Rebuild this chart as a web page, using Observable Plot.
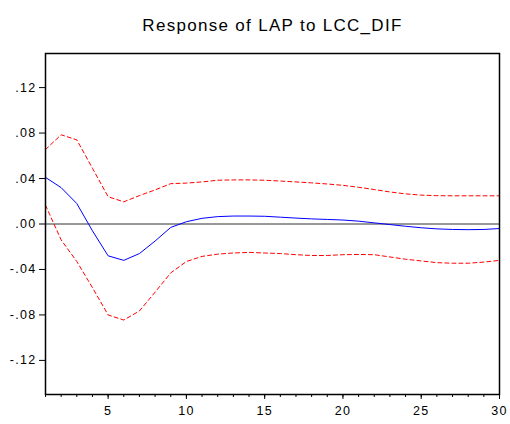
<!DOCTYPE html>
<html>
<head>
<meta charset="utf-8">
<script src="https://cdn.jsdelivr.net/npm/d3@7"></script>
<script src="https://cdn.jsdelivr.net/npm/@observablehq/plot@0.6"></script>
<style>
  html, body { margin: 0; padding: 0; background: #fff; }
  #chart svg { display: block; }
</style>
</head>
<body>
<div id="chart"></div>
<script>
const title = "Response of LAP to LCC_DIF";
const periods = d3.range(1, 31);
const response = [0.041, 0.032, 0.018, -0.006, -0.028, -0.032, -0.026, -0.015, -0.003, 0.002,
  0.005, 0.0065, 0.007, 0.007, 0.0068, 0.006, 0.0052, 0.0045, 0.004, 0.0035,
  0.0025, 0.001, -0.0005, -0.002, -0.0033, -0.0043, -0.0048, -0.005, -0.0048, -0.004];
const upper = [0.0655, 0.0785, 0.074, 0.049, 0.024, 0.0195, 0.025, 0.030, 0.0355, 0.036,
  0.037, 0.0385, 0.0388, 0.0388, 0.0385, 0.0378, 0.037, 0.0362, 0.0352, 0.034,
  0.0323, 0.0303, 0.0282, 0.0265, 0.0254, 0.0249, 0.0248, 0.0248, 0.0248, 0.0248];
const lower = [0.0165, -0.014, -0.033, -0.056, -0.080, -0.0845, -0.0765, -0.060, -0.043, -0.033,
  -0.0285, -0.0265, -0.0255, -0.025, -0.0255, -0.026, -0.027, -0.0277, -0.0277, -0.027,
  -0.0268, -0.027, -0.029, -0.031, -0.0325, -0.034, -0.0345, -0.0345, -0.0335, -0.032];
const yTicks = [-0.12, -0.08, -0.04, 0, 0.04, 0.08, 0.12];
const xLabelTicks = [5, 10, 15, 20, 25, 30];

const rows = periods.map((p, i) => ({period: p, response: response[i], upper: upper[i], lower: lower[i]}));

const fmtY = d => {
  const neg = d < -1e-9;
  return (neg ? "-" : "") + Math.abs(d).toFixed(2).replace(/^0/, "");
};

const chart = Plot.plot({
  width: 510,
  height: 424,
  marginLeft: 45,
  marginRight: 11,
  marginTop: 53,
  marginBottom: 30,
  style: {fontFamily: "'Liberation Sans', Arial, sans-serif", fontSize: "12.5px", color: "#000", background: "#fff"},
  x: {domain: [1, 30]},
  y: {domain: [-0.15, 0.15]},
  marks: [
    Plot.ruleY([0], {stroke: "#333", strokeWidth: 1}),
    Plot.line(rows, {x: "period", y: "upper", stroke: "#ff0000", strokeWidth: 1, strokeDasharray: "4,3"}),
    Plot.line(rows, {x: "period", y: "lower", stroke: "#ff0000", strokeWidth: 1, strokeDasharray: "4,3"}),
    Plot.line(rows, {x: "period", y: "response", stroke: "#0000ff", strokeWidth: 1}),
    Plot.axisY(yTicks, {tickSize: 6, tickPadding: 3, tickFormat: fmtY, label: null, stroke: "#000", fontSize: 12.5}),
    Plot.axisX(periods, {tickSize: 3, tickFormat: () => "", label: null, stroke: "#000"}),
    Plot.axisX(xLabelTicks, {tickSize: 5, tickPadding: 7, tickFormat: d => String(d), label: null, stroke: "#000", fontSize: 12.5}),
    Plot.frame({stroke: "#000", strokeWidth: 1.5}),
    Plot.text([title], {frameAnchor: "top", dy: -35, text: d => d, fontSize: 17, fill: "#000"})
  ]
});

d3.select(chart).selectAll("text").style("letter-spacing", "1.3px");
document.getElementById("chart").appendChild(chart);
</script>
</body>
</html>
